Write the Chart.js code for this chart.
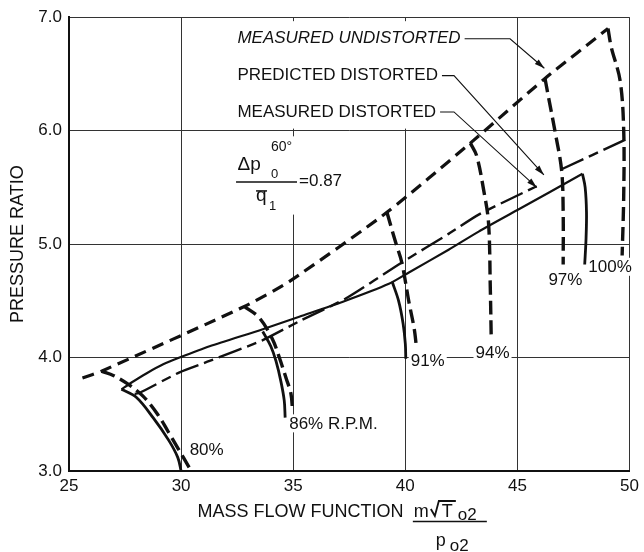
<!DOCTYPE html>
<html>
<head>
<meta charset="utf-8">
<script src="https://cdn.jsdelivr.net/npm/chart.js@4.4.1/dist/chart.umd.min.js"></script>
<style>
  html, body { margin: 0; padding: 0; background: #fff; }
  canvas { display: block; }
</style>
</head>
<body>
<canvas id="chart" width="644" height="552"></canvas>
<script>
// ---- data (mass flow function, pressure ratio) ----

// operating lines
const undistSurgeX = [25.6, 26.45, 32.82, 34.82, 39.18, 42.9, 46.23, 49.04];
const undistSurgeY = [3.82, 3.88, 4.45, 4.67, 5.28, 5.89, 6.46, 6.90];

const predSurgeX = [27.93, 28.16, 29.93, 31.27, 33.6, 35.27, 37.34, 39.86, 41.93, 43.27, 45.86, 46.4, 46.97, 49.7, 50.3];
const predSurgeY = [3.68, 3.69, 3.87, 3.97, 4.15, 4.32, 4.52, 4.84, 5.09, 5.26, 5.51, null, 5.66, 5.91, 5.97];

const measSurgeX = [27.34, 27.79, 28.45, 29.2, 29.93, 31.27, 33.64, 35.27, 37.19, 39.27, 40.16, 41.93, 43.27, 45.0, 47.9];
const measSurgeY = [3.72, 3.78, 3.86, 3.94, 4.0, 4.10, 4.25, 4.36, 4.49, 4.65, 4.75, 4.95, 5.11, 5.30, 5.62];

// speed lines, measured undistorted
const u80X = [26.45, 27.0, 27.6, 28.3, 28.95, 29.62, 30.1, 30.6];
const u80Y = [3.88, 3.84, 3.77, 3.66, 3.50, 3.28, 3.12, 2.95];
const u86X = [32.82, 33.49, 34.08, 34.38, 34.68, 34.9, 34.97];
const u86Y = [4.45, 4.35, 4.16, 4.0, 3.82, 3.68, 3.53];
const u91X = [39.18, 39.56, 39.84, 40.16, 40.4, 40.5];
const u91Y = [5.28, 5.02, 4.84, 4.49, 4.25, 4.08];
const u94X = [42.9, 43.18, 43.49, 43.71, 43.79, 43.83];
const u94Y = [5.89, 5.78, 5.48, 5.19, 4.61, 4.18];
const u97X = [46.23, 46.38, 46.67, 46.97, 47.04, 47.04];
const u97Y = [6.46, 6.30, 6.00, 5.65, 5.28, 4.82];
const u100X = [49.04, 49.18, 49.58, 49.74, 49.74, 49.67];
const u100Y = [6.90, 6.74, 6.44, 6.00, 5.43, 4.90];

// speed lines, measured distorted
const d80X = [27.34, 28.0, 28.75, 29.45, 29.85, 30.0];
const d80Y = [3.72, 3.65, 3.47, 3.27, 3.12, 3.0];
const d86X = [33.64, 34.0, 34.23, 34.45, 34.6, 34.64];
const d86Y = [4.23, 4.10, 3.97, 3.79, 3.62, 3.47];
const d91X = [39.41, 39.7, 39.9, 40.0, 40.02];
const d91Y = [4.67, 4.5, 4.3, 4.12, 3.99];
const d100X = [47.9, 48.02, 48.08, 48.06, 48.0];
const d100Y = [5.62, 5.50, 5.28, 5.05, 4.82];

const xTicks = [25, 30, 35, 40, 45, 50];
const yTicks = [3, 4, 5, 6, 7];

const legendTexts = ['MEASURED UNDISTORTED', 'PREDICTED DISTORTED', 'MEASURED DISTORTED'];
const speedTexts = ['80%', '86% R.P.M.', '91%', '94%', '97%', '100%'];

// ---- drawing ----
const FONT = '"Liberation Sans", Arial, Helvetica, sans-serif';
const INK = '#111';

function pts(xs, ys) {
    return xs.map(function (x, i) { return { x: x, y: ys[i] }; });
}

function line(xs, ys, style) {
    return Object.assign({
        data: pts(xs, ys),
        showLine: true,
        pointRadius: 0,
        borderColor: INK,
        borderCapStyle: 'butt',
        fill: false,
        spanGaps: false
    }, style);
}

const undistStyle = { borderWidth: 3.2, borderDash: [12, 7], tension: 0.2 };
const undistSpeed = { borderWidth: 3.4, borderDash: [14, 6], tension: 0.35 };
const predStyle = { borderWidth: 2.4, borderDash: [24, 6, 10, 6], tension: 0.2 };
const measStyle = { borderWidth: 2.2, tension: 0.25 };
const measSpeed = { borderWidth: 2.8, tension: 0.35 };

const datasets = [
    line(undistSurgeX, undistSurgeY, undistStyle),
    line(predSurgeX, predSurgeY, predStyle),
    line(measSurgeX, measSurgeY, measStyle),
    line(u80X, u80Y, undistSpeed),
    line(u86X, u86Y, undistSpeed),
    line(u91X, u91Y, undistSpeed),
    line(u94X, u94Y, undistSpeed),
    line(u97X, u97Y, undistSpeed),
    line(u100X, u100Y, undistSpeed),
    line(d80X, d80Y, measSpeed),
    line(d86X, d86Y, measSpeed),
    line(d91X, d91Y, measSpeed),
    line(d100X, d100Y, measSpeed)
];

// annotation placement (data units)
const legendAt = [[32.51, 6.81], [32.51, 6.485], [32.51, 6.165]];
const legendBend = [[44.67, 6.81], [42.17, 6.485], [42.17, 6.165]];
const legendTip = [[46.2, 6.55], [46.18, 5.61], [45.86, 5.50]];
const speedAt = [[30.38, 3.19], [34.82, 3.42], [40.24, 3.98], [43.13, 4.05], [46.38, 4.69], [48.16, 4.80]];
const fracAt = [32.45, 5.548];
// white boxes that break the grid behind the lettering: [x1, x2, y1, y2]
const masks = [[32.35, 42.6, 6.018, 6.965], [32.33, 37.67, 5.26, 5.95]];

function toPx(chart, x, y) {
    return [chart.scales.x.getPixelForValue(x), chart.scales.y.getPixelForValue(y)];
}

function arrowHead(ctx, fx, fy, tx, ty) {
    var a = Math.atan2(ty - fy, tx - fx), L = 10, W = 3;
    ctx.beginPath();
    ctx.moveTo(tx, ty);
    ctx.lineTo(tx - L * Math.cos(a) + W * Math.sin(a), ty - L * Math.sin(a) - W * Math.cos(a));
    ctx.lineTo(tx - L * Math.cos(a) - W * Math.sin(a), ty - L * Math.sin(a) + W * Math.cos(a));
    ctx.closePath();
    ctx.fill();
}

const notes = {
    id: 'notes',
    beforeDatasetsDraw(chart) {
        const ctx = chart.ctx;
        ctx.save();
        ctx.fillStyle = '#fff';
        masks.forEach(function (m) {
            var a = toPx(chart, m[0], m[3]), b = toPx(chart, m[1], m[2]);
            ctx.fillRect(a[0], a[1], b[0] - a[0], b[1] - a[1]);
        });
        ctx.font = '17px ' + FONT;
        speedTexts.forEach(function (t, i) {
            var p = toPx(chart, speedAt[i][0], speedAt[i][1]);
            var w = ctx.measureText(t).width;
            ctx.fillRect(p[0] - 2, p[1] - 9, w + 4, 18);
        });
        ctx.restore();
    },
    afterDatasetsDraw(chart) {
        const ctx = chart.ctx;
        const area = chart.chartArea;
        ctx.save();
        ctx.fillStyle = INK;
        ctx.strokeStyle = INK;
        ctx.textBaseline = 'middle';
        ctx.textAlign = 'left';

        // legend lettering and leaders
        legendTexts.forEach(function (t, i) {
            ctx.font = (i === 0 ? 'italic ' : '') + '17px ' + FONT;
            var p = toPx(chart, legendAt[i][0], legendAt[i][1]);
            ctx.fillText(t, p[0], p[1]);
            var w = ctx.measureText(t).width;
            var b = toPx(chart, legendBend[i][0], legendBend[i][1]);
            var tip = toPx(chart, legendTip[i][0], legendTip[i][1]);
            ctx.lineWidth = 1.1;
            ctx.beginPath();
            ctx.moveTo(p[0] + w + 4, p[1]);
            ctx.lineTo(b[0], p[1]);
            ctx.lineTo(tip[0], tip[1]);
            ctx.stroke();
            arrowHead(ctx, b[0], p[1], tip[0], tip[1]);
        });

        // speed labels
        ctx.font = '17px ' + FONT;
        speedTexts.forEach(function (t, i) {
            var p = toPx(chart, speedAt[i][0], speedAt[i][1]);
            ctx.fillText(t, p[0], p[1] + 1);
        });

        // distortion parameter
        var f = toPx(chart, fracAt[0], fracAt[1]);
        var fx = f[0], fy = f[1];
        ctx.textBaseline = 'alphabetic';
        ctx.font = '19px ' + FONT;
        ctx.fillText('\u0394p', fx + 1.5, fy - 12);
        ctx.font = '14px ' + FONT;
        ctx.fillText('60\u00b0', fx + 35, fy - 31);
        ctx.font = '13px ' + FONT;
        ctx.fillText('0', fx + 35, fy - 4);
        ctx.lineWidth = 1.5;
        ctx.beginPath();
        ctx.moveTo(fx, fy);
        ctx.lineTo(fx + 61, fy);
        ctx.stroke();
        ctx.font = '17px ' + FONT;
        ctx.fillText('=0.87', fx + 63, fy + 4);
        ctx.font = '19px ' + FONT;
        ctx.fillText('q', fx + 20, fy + 19);
        ctx.beginPath();
        ctx.moveTo(fx + 20, fy + 9);
        ctx.lineTo(fx + 31, fy + 9);
        ctx.stroke();
        ctx.font = '13px ' + FONT;
        ctx.fillText('1', fx + 33, fy + 28);

        // x axis title with flow parameter
        var tx = chart.scales.x.getPixelForValue(30.73);
        var by = area.bottom;
        ctx.font = '18px ' + FONT;
        ctx.fillText('MASS FLOW FUNCTION', tx, by + 46);
        var mx = chart.scales.x.getPixelForValue(40.38);
        ctx.fillText('m', mx, by + 46);
        ctx.lineWidth = 1.8;
        ctx.beginPath();
        ctx.moveTo(mx + 17, by + 38);
        ctx.lineTo(mx + 21, by + 45);
        ctx.lineTo(mx + 25, by + 30);
        ctx.lineTo(mx + 42, by + 30);
        ctx.stroke();
        ctx.fillText('T', mx + 28, by + 46);
        ctx.font = '17px ' + FONT;
        ctx.fillText('o2', mx + 44, by + 49);
        ctx.lineWidth = 1.5;
        ctx.beginPath();
        ctx.moveTo(mx - 1, by + 50.5);
        ctx.lineTo(mx + 73, by + 50.5);
        ctx.stroke();
        ctx.font = '18px ' + FONT;
        ctx.fillText('p', mx + 22, by + 75);
        ctx.font = '17px ' + FONT;
        ctx.fillText('o2', mx + 36, by + 80);
        ctx.restore();
    }
};

const ctx = document.getElementById('chart').getContext('2d');
const chart = new Chart(ctx, {
    type: 'scatter',
    data: { datasets: datasets },
    options: {
        responsive: false,
        animation: false,
        events: [],
        layout: { padding: { top: 13, right: 12, left: 0, bottom: 0 } },
        plugins: { legend: { display: false }, tooltip: { enabled: false } },
        scales: {
            x: {
                type: 'linear',
                min: 25,
                max: 50,
                afterBuildTicks: function (s) { s.ticks = xTicks.map(function (v) { return { value: v }; }); },
                afterFit: function (s) { s.height = 81; },
                ticks: { color: INK, font: { family: FONT, size: 17 }, padding: 5, maxRotation: 0 },
                grid: { color: '#333', lineWidth: 1, drawTicks: false },
                border: { color: INK, width: 2 }
            },
            y: {
                type: 'linear',
                min: 3,
                max: 7,
                afterBuildTicks: function (s) { s.ticks = yTicks.map(function (v) { return { value: v }; }); },
                afterFit: function (s) { s.width = 69; },
                ticks: {
                    color: INK, font: { family: FONT, size: 17 }, padding: 7,
                    callback: function (v) { return Number(v).toFixed(1); }
                },
                grid: { color: '#333', lineWidth: 1, drawTicks: false },
                border: { color: INK, width: 2 },
                title: {
                    display: true, text: 'PRESSURE RATIO', color: INK,
                    font: { family: FONT, size: 18 }, padding: { top: 7, bottom: 0 }
                }
            }
        }
    },
    plugins: [notes]
});
</script>
</body>
</html>
